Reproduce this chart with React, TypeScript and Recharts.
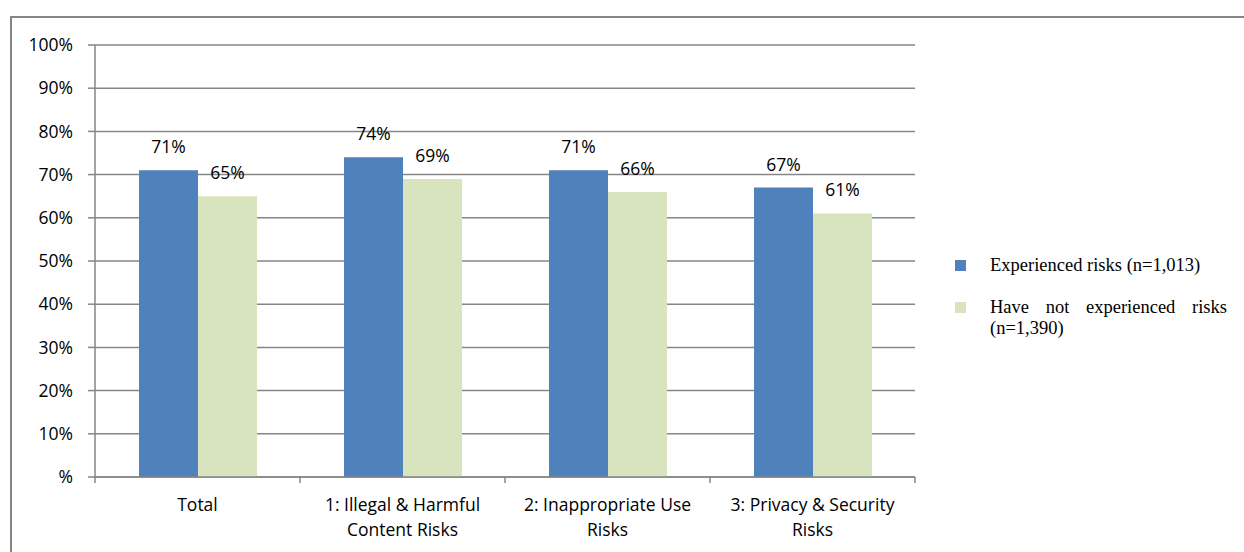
import React from 'react';
import { BarChart, Bar, XAxis, YAxis, CartesianGrid, LabelList } from 'recharts';

const categories = [
  ['Total'],
  ['1: Illegal & Harmful', 'Content Risks'],
  ['2: Inappropriate Use', 'Risks'],
  ['3: Privacy & Security', 'Risks'],
];
const experienced = [71, 74, 71, 67];
const notExperienced = [65, 69, 66, 61];
const yTicks = [0, 10, 20, 30, 40, 50, 60, 70, 80, 90, 100];

const seriesNames = ['Experienced risks (n=1,013)', 'Have not experienced risks (n=1,390)'];
const colors = ['#4F81BD', '#D7E4BD'];

const data = categories.map((c, i) => ({
  name: c.join(' '),
  exp: experienced[i],
  notExp: notExperienced[i],
}));

const W = 1244;
const H = 552;
const margin = { top: 45, right: 329, left: 0, bottom: 0 };
const Y_AXIS_W = 95;
const X_AXIS_H = 75;
const PLOT_W = W - Y_AXIS_W - margin.right;
const BAND = PLOT_W / categories.length;
const FONT = '"Open Sans", sans-serif';
const FS = 17.5;
const GRID = '#868686';

const CatTick = (props: any) => {
  const { x, y, index } = props;
  const lines = categories[index] || [];
  return (
    <g>
      <line x1={x - BAND / 2} x2={x - BAND / 2} y1={y} y2={y + 6} stroke={GRID} strokeWidth={1.5} />
      {index === categories.length - 1 && (
        <line x1={x + BAND / 2} x2={x + BAND / 2} y1={y} y2={y + 6} stroke={GRID} strokeWidth={1.5} />
      )}
      {lines.map((l, i) => (
        <text key={i} x={x} y={y + 34 + i * 25} textAnchor="middle" fill="#000" fontSize={FS} fontFamily={FONT}>
          {l}
        </text>
      ))}
    </g>
  );
};

const LegendBox = () => (
  <div style={{ fontFamily: '"Liberation Serif", "Times New Roman", serif', fontSize: 18.5, color: '#000', width: 290 }}>
    {seriesNames.map((n, i) => (
      <div key={n} style={{ display: 'flex', alignItems: 'flex-start', marginBottom: 21 }}>
        <div style={{ width: 11, height: 11, background: colors[i], marginTop: 5, marginRight: 24, flex: 'none' }} />
        <div style={{ width: 237, textAlign: 'justify', lineHeight: '21px' }}>{n}</div>
      </div>
    ))}
  </div>
);

export default function App() {
  return (
    <div style={{ position: 'absolute', left: 0, top: 0, width: W, height: H, overflow: 'hidden', background: '#fff' }}>
      <div style={{ position: 'absolute', left: 10, top: 16, width: 1400, height: 700, border: `2px solid ${GRID}`, boxSizing: 'border-box' }} />
      <div style={{ position: 'absolute', left: 0, top: 0 }}>
        <BarChart width={W} height={H} data={data} margin={margin} barCategoryGap={44} barGap={0}>
          <CartesianGrid vertical={false} stroke={GRID} strokeWidth={1.5} />
          <XAxis
            dataKey="name"
            height={X_AXIS_H}
            interval={0}
            tickLine={false}
            tickSize={0}
            tickMargin={0}
            axisLine={{ stroke: GRID, strokeWidth: 1.5 }}
            tick={<CatTick />}
          />
          <YAxis
            width={Y_AXIS_W}
            domain={[0, 100]}
            ticks={yTicks}
            interval={0}
            tickSize={7}
            tickMargin={15}
            axisLine={{ stroke: GRID, strokeWidth: 1.5 }}
            tickLine={{ stroke: GRID, strokeWidth: 1.5 }}
            tick={{ fill: '#000', fontSize: FS, fontFamily: FONT }}
            tickFormatter={(v: number) => (v === 0 ? '%' : `${v}%`)}
          />
          <Bar dataKey="exp" name={seriesNames[0]} fill={colors[0]} isAnimationActive={false}>
            <LabelList dataKey="exp" position="top" offset={17} formatter={(v: any) => `${v}%`} fill="#000" fontSize={FS} fontFamily={FONT} />
          </Bar>
          <Bar dataKey="notExp" name={seriesNames[1]} fill={colors[1]} isAnimationActive={false}>
            <LabelList dataKey="notExp" position="top" offset={17} formatter={(v: any) => `${v}%`} fill="#000" fontSize={FS} fontFamily={FONT} />
          </Bar>
        </BarChart>
      </div>
      <div style={{ position: 'absolute', left: 955, top: 255 }}>
        <LegendBox />
      </div>
    </div>
  );
}
